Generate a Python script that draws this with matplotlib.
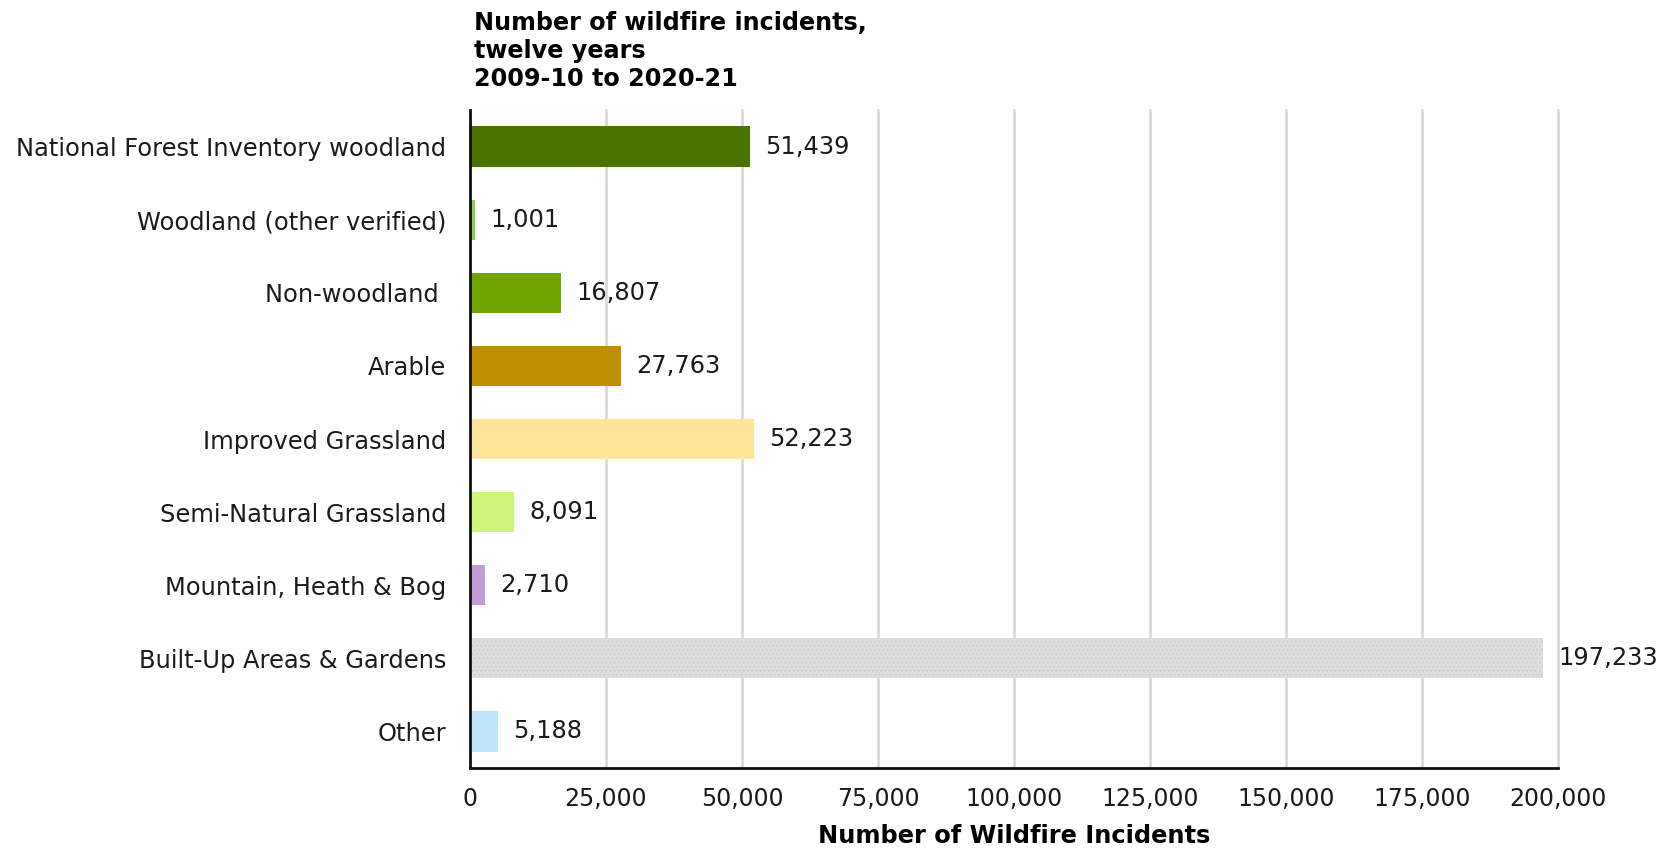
import matplotlib
matplotlib.use("Agg")
import matplotlib.pyplot as plt
from matplotlib.ticker import FuncFormatter, MultipleLocator

categories = [
    "National Forest Inventory woodland",
    "Woodland (other verified)",
    "Non-woodland ",
    "Arable",
    "Improved Grassland",
    "Semi-Natural Grassland",
    "Mountain, Heath & Bog",
    "Built-Up Areas & Gardens",
    "Other",
]
values = [51439, 1001, 16807, 27763, 52223, 8091, 2710, 197233, 5188]
colors = ["#4a7400", "#92d050", "#6fa600", "#bf8f00", "#ffe599",
          "#cdf57a", "#c39bd8", "#dcdcdc", "#bfe5fc"]
title = "Number of wildfire incidents,\ntwelve years\n2009-10 to 2020-21"
xlabel = "Number of Wildfire Incidents"

plt.rcParams["font.family"] = ["DejaVu Sans"]
plt.rcParams["hatch.linewidth"] = 0.6

FS = 17.4

fig = plt.figure(figsize=(16.64, 8.51), dpi=100)
ax = fig.add_axes([470/1664, 1 - 768/851, (1558-470)/1664, (768-110)/851])

y = list(range(len(categories)))
bars = ax.barh(y, values, height=0.55, color=colors, zorder=3, linewidth=0)
# textured built-up bar
bi = categories.index("Built-Up Areas & Gardens")
bars[bi].set_hatch("....")
bars[bi].set_edgecolor("#cbcbcb")

for yi, v in zip(y, values):
    ax.annotate(f"{v:,}", xy=(v, yi), xytext=(11, 0), textcoords="offset points",
                va="center", ha="left", fontsize=FS, color="#1a1a1a")

ax.set_ylim(8.5, -0.5)
ax.set_xlim(0, 200000)
ax.xaxis.set_major_locator(MultipleLocator(25000))
ax.xaxis.set_major_formatter(FuncFormatter(lambda x, p: f"{int(x):,}"))
ax.set_yticks(y)
ax.set_yticklabels(categories, fontsize=FS, color="#1a1a1a")
ax.tick_params(axis="y", length=0, pad=17)
ax.tick_params(axis="x", length=0, pad=14, labelsize=17, labelcolor="#1a1a1a")

ax.grid(axis="x", color="#d9d9d9", linewidth=2, zorder=0)
for gl in ax.get_xgridlines():
    gl.set_clip_on(False)
ax.set_axisbelow(True)
for s in ["top", "right"]:
    ax.spines[s].set_visible(False)
for s in ["left", "bottom"]:
    ax.spines[s].set_linewidth(2)
    ax.spines[s].set_color("#111111")
    ax.spines[s].set_zorder(4)

ax.set_xlabel(xlabel, fontsize=FS, fontweight="bold", labelpad=9)
fig.text(474/1664, 1 - 11/851, title, fontsize=17.2, fontweight="bold",
         va="top", ha="left", linespacing=1.2)

fig.savefig("out.png", dpi=100)
